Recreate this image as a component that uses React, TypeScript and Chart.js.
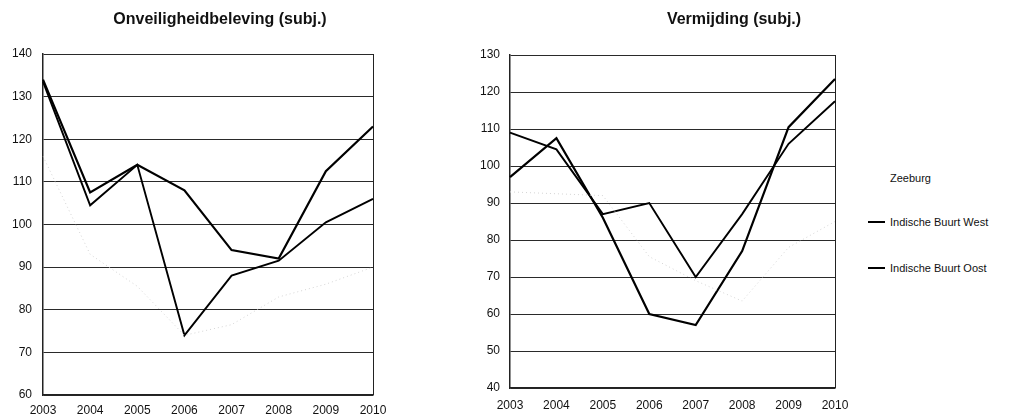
import React, { useEffect, useRef } from 'react';
import { Chart, registerables } from 'chart.js';

Chart.register(...registerables);

const years = ['2003', '2004', '2005', '2006', '2007', '2008', '2009', '2010'];

// Onveiligheidbeleving (subj.)
const onvWest = [134, 107.5, 114, 108, 94, 92, 112.5, 123];
const onvOost = [133.5, 104.5, 114, 74, 88, 91.5, 100.5, 106];
const onvZeeburg = [116, 93, 85.5, 74, 76.5, 83, 86, 90];

// Vermijding (subj.)
const verWest = [97, 107.5, 86, 60, 57, 77, 110.5, 123.5];
const verOost = [109, 104.5, 87, 90, 70, 87, 106, 117.5];
const verZeeburg = [93, 92.5, 92, 75.5, 69, 63.5, 78, 85];

const titleLeft = 'Onveiligheidbeleving (subj.)';
const titleRight = 'Vermijding (subj.)';
const legendLabels = ['Zeeburg', 'Indische Buurt West', 'Indische Buurt Oost'];

const FONT = '"Liberation Sans", Arial, Helvetica, sans-serif';

type PanelProps = {
  west: number[];
  oost: number[];
  zeeburg: number[];
  min: number;
  max: number;
  yWidth: number;
  xHeight: number;
  padTop: number;
  padRight: number;
  xPad: number;
  yPad: number;
};

function Panel(p: PanelProps) {
  const ref = useRef<HTMLCanvasElement | null>(null);
  useEffect(() => {
    if (!ref.current) return;
    const last = years.length - 1;
    const chart = new Chart(ref.current, {
      type: 'line',
      data: {
        labels: years,
        datasets: [
          {
            label: legendLabels[0],
            data: p.zeeburg,
            borderColor: '#d4d4d4',
            borderWidth: 1,
            borderDash: [1, 3],
            pointRadius: 0,
            tension: 0,
          },
          {
            label: legendLabels[1],
            data: p.west,
            borderColor: '#000',
            borderWidth: 2.2,
            pointRadius: 0,
            tension: 0,
          },
          {
            label: legendLabels[2],
            data: p.oost,
            borderColor: '#000',
            borderWidth: 1.9,
            pointRadius: 0,
            tension: 0,
          },
        ],
      },
      options: {
        responsive: false,
        animation: false,
        layout: { padding: { top: p.padTop, right: p.padRight, left: 0, bottom: 0 } },
        plugins: { legend: { display: false }, title: { display: false }, tooltip: { enabled: false } },
        scales: {
          x: {
            type: 'category',
            offset: false,
            grid: {
              drawTicks: false,
              color: (ctx: any) => (ctx.index === last ? '#222' : 'rgba(0,0,0,0)'),
              lineWidth: 1,
            },
            border: { display: true, color: '#222', width: 1.5 },
            ticks: {
              color: '#111',
              font: { family: FONT, size: 12 },
              padding: p.xPad,
              maxRotation: 0,
              autoSkip: false,
            },
            afterFit: (s: any) => {
              s.height = p.xHeight;
            },
          },
          y: {
            min: p.min,
            max: p.max,
            grid: { drawTicks: false, color: '#2a2a2a', lineWidth: 1 },
            border: { display: true, color: '#222', width: 1.5 },
            ticks: {
              stepSize: 10,
              color: '#111',
              font: { family: FONT, size: 12 },
              padding: p.yPad,
            },
            afterFit: (s: any) => {
              s.width = p.yWidth;
            },
          },
        },
      },
    } as any);
    return () => chart.destroy();
  }, []);
  return <canvas ref={ref} width={400} height={416} style={{ width: 400, height: 416, display: 'block' }} />;
}

export default function App() {
  const titleStyle: React.CSSProperties = {
    position: 'absolute',
    top: 10,
    fontFamily: FONT,
    fontWeight: 'bold',
    fontSize: 16,
    color: '#111',
    whiteSpace: 'nowrap',
    transform: 'translateX(-50%)',
  };
  const legText: React.CSSProperties = {
    position: 'absolute',
    left: 890,
    fontFamily: FONT,
    fontSize: 11,
    color: '#111',
    whiteSpace: 'nowrap',
    lineHeight: '12px',
  };
  return (
    <div style={{ position: 'absolute', left: 0, top: 0, width: 1010, height: 416, background: '#fff', overflow: 'hidden' }}>
      <div style={{ position: 'absolute', left: 0, top: 0 }}>
        <Panel west={onvWest} oost={onvOost} zeeburg={onvZeeburg} min={60} max={140} yWidth={43} xHeight={21} padTop={54} padRight={27} xPad={8} yPad={11} />
      </div>
      <div style={{ position: 'absolute', left: 460, top: 0 }}>
        <Panel west={verWest} oost={verOost} zeeburg={verZeeburg} min={40} max={130} yWidth={50} xHeight={28} padTop={55} padRight={25} xPad={10} yPad={10} />
      </div>
      <div style={{ ...titleStyle, left: 220 }}>{titleLeft}</div>
      <div style={{ ...titleStyle, left: 734 }}>{titleRight}</div>
      <div style={{ ...legText, top: 172 }}>{legendLabels[0]}</div>
      <div style={{ position: 'absolute', left: 868, top: 221, width: 17, height: 2, background: '#000' }} />
      <div style={{ ...legText, top: 216 }}>{legendLabels[1]}</div>
      <div style={{ position: 'absolute', left: 868, top: 267, width: 17, height: 2, background: '#000' }} />
      <div style={{ ...legText, top: 262 }}>{legendLabels[2]}</div>
    </div>
  );
}
